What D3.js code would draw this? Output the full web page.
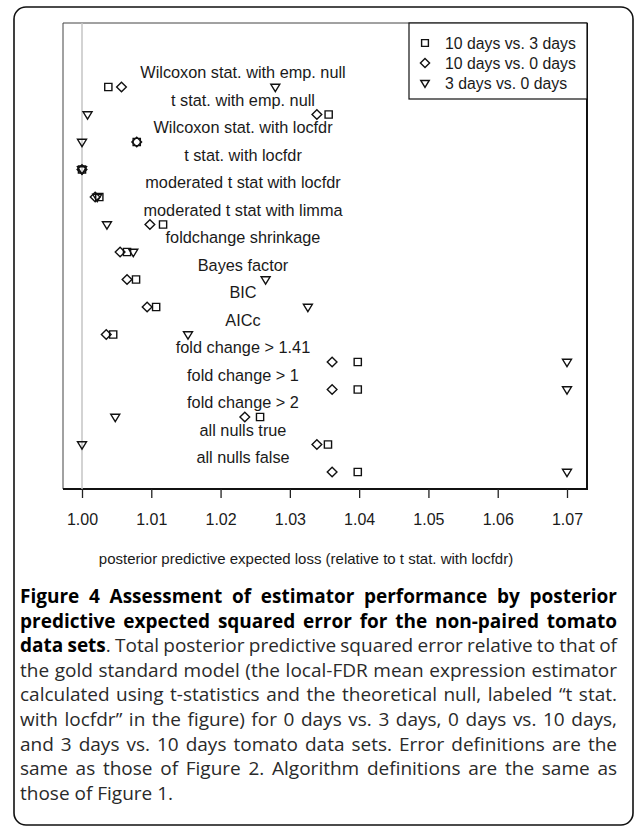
<!DOCTYPE html>
<html lang="en">
<head>
<meta charset="UTF-8">
<title>Figure 4 - posterior predictive expected loss</title>
<script src="https://d3js.org/d3.v7.min.js"></script>
<style>
  html, body { margin: 0; padding: 0; background: #fff; }
  svg { display: block; }
  .plot-text { font-family: "Liberation Sans", Arial, sans-serif; fill: #1a1a1a; }
  .caption { font-family: "Open Sans", "Noto Sans", sans-serif; font-size: 19px; fill: #2a2a2a; }
  .caption .b { font-weight: bold; fill: #000; }
</style>
</head>
<body>
<svg id="chart" width="635" height="827"></svg>
<script>
// methods, top to bottom
const methods = [
  "Wilcoxon stat. with emp. null",
  "t stat. with emp. null",
  "Wilcoxon stat. with locfdr",
  "t stat. with locfdr",
  "moderated t stat with locfdr",
  "moderated t stat with limma",
  "foldchange shrinkage",
  "Bayes factor",
  "BIC",
  "AICc",
  "fold change > 1.41",
  "fold change > 1",
  "fold change > 2",
  "all nulls true",
  "all nulls false"
];
// relative loss for each comparison
const days10vs3 = [1.0038, 1.0356, 1.0079, 1.0000, 1.0025, 1.0117, 1.0065, 1.0078, 1.0107, 1.0045, 1.0398, 1.0398, 1.0257, 1.0355, 1.0398];
const days10vs0 = [1.0057, 1.0339, 1.0079, 1.0000, 1.0019, 1.0098, 1.0055, 1.0065, 1.0094, 1.0035, 1.0361, 1.0361, 1.0235, 1.0339, 1.0361];
const days3vs0  = [1.0279, 1.0008, 1.0000, 1.0000, 1.0022, 1.0036, 1.0074, 1.0265, 1.0326, 1.0153, 1.0700, 1.0700, 1.0048, 1.0000, 1.0700];
const seriesNames = ["10 days vs. 3 days", "10 days vs. 0 days", "3 days vs. 0 days"];
const xTicks = [1.00, 1.01, 1.02, 1.03, 1.04, 1.05, 1.06, 1.07];

const captionLines = [
  [["b", "Figure 4 Assessment of estimator performance by posterior"]],
  [["b", "predictive expected squared error for the non-paired tomato"]],
  [["b", "data sets"], ["r", ". Total posterior predictive squared error relative to that of"]],
  [["r", "the gold standard model (the local-FDR mean expression estimator"]],
  [["r", "calculated using t-statistics and the theoretical null, labeled \u201ct stat."]],
  [["r", "with locfdr\u201d in the figure) for 0 days vs. 3 days, 0 days vs. 10 days,"]],
  [["r", "and 3 days vs. 10 days tomato data sets. Error definitions are the"]],
  [["r", "same as those of Figure 2. Algorithm definitions are the same as"]],
  [["r", "those of Figure 1."]]
];

const svg = d3.select("#chart");

// outer rounded frame
svg.append("rect")
  .attr("x", 14).attr("y", 7).attr("width", 619).attr("height", 818)
  .attr("rx", 12).attr("fill", "none").attr("stroke", "#111").attr("stroke-width", 1.6);

const box = {left: 63, top: 23, right: 587, bottom: 489};
const x = d3.scaleLinear().domain([1.00, 1.07]).range([82, 567]);
const y = d3.scaleLinear().domain([0, methods.length - 1]).range([87, 472]);

// plot box
svg.append("path")
  .attr("d", `M${box.left},${box.bottom}V${box.top}H${box.right}`)
  .attr("fill", "none").attr("stroke", "#444").attr("stroke-width", 1);
svg.append("path")
  .attr("d", `M${box.right},${box.top}V${box.bottom}H${box.left}`)
  .attr("fill", "none").attr("stroke", "#111").attr("stroke-width", 2);

// reference line at 1
svg.append("line")
  .attr("x1", x(1)).attr("x2", x(1)).attr("y1", box.top).attr("y2", box.bottom)
  .attr("stroke", "#c4c4c4").attr("stroke-width", 1.5);

// x axis
const axis = svg.append("g")
  .attr("transform", `translate(0,${box.bottom})`)
  .call(d3.axisBottom(x).tickValues(xTicks).tickFormat(d3.format(".2f")).tickSize(9).tickPadding(16));
axis.select(".domain").remove();
axis.selectAll(".tick line").attr("stroke", "#222").attr("stroke-width", 1.3);
axis.selectAll(".tick text")
  .attr("class", "plot-text")
  .style("font-size", "16px").attr("fill", "#1a1a1a");

svg.append("text")
  .attr("class", "plot-text")
  .attr("x", 306).attr("y", 564)
  .attr("text-anchor", "middle")
  .style("font-size", "15px")
  .text("posterior predictive expected loss (relative to t stat. with locfdr)");

// method labels between rows
svg.append("g").selectAll("text")
  .data(methods)
  .join("text")
    .attr("class", "plot-text")
    .attr("x", 243)
    .attr("y", (d, i) => y(i - 0.54))
    .attr("dy", "0.36em")
    .attr("text-anchor", "middle")
    .style("font-size", "16.3px")
    .text(d => d);

// marker shapes (R pch 0, 5, 6)
const shapes = [
  s => `M${-s},${-s}H${s}V${s}H${-s}Z`,
  s => { const r = s * 1.35; return `M0,${-r}L${r},0L0,${r}L${-r},0Z`; },
  s => { const r = s * 1.25; return `M${-r},${-r * 0.6}H${r}L0,${r * 1.05}Z`; }
];
const series = [days10vs3, days10vs0, days3vs0];
const markerStyle = sel => sel.attr("fill", "none").attr("stroke", "#111").attr("stroke-width", 1.4);

series.forEach((vals, k) => {
  svg.append("g").selectAll("path")
    .data(vals)
    .join("path")
      .attr("transform", (d, i) => `translate(${x(d)},${y(i)})`)
      .attr("d", shapes[k](3.6))
      .call(markerStyle);
});

// legend
const lg = svg.append("g");
lg.append("rect")
  .attr("x", 409).attr("y", box.top).attr("width", box.right - 409).attr("height", 76)
  .attr("fill", "#fff").attr("stroke", "#111").attr("stroke-width", 1.2);
seriesNames.forEach((name, k) => {
  const ly = 43 + k * 20;
  lg.append("path").attr("transform", `translate(425,${ly})`).attr("d", shapes[k](3.4)).call(markerStyle);
  lg.append("text").attr("class", "plot-text")
    .attr("x", 445).attr("y", ly).attr("dy", "0.36em")
    .style("font-size", "15.8px").text(name);
});

// caption, justified line by line
const capLeft = 20, capRight = 617, capTop = 603, capStep = 24.6;
captionLines.forEach((parts, i) => {
  const t = svg.append("text")
    .attr("class", "caption")
    .attr("x", capLeft).attr("y", capTop + i * capStep);
  parts.forEach(([kind, str]) => {
    t.append("tspan").attr("class", kind === "b" ? "b" : null).text(str);
  });
  if (i < captionLines.length - 1) {
    const natural = t.node().getComputedTextLength();
    const gaps = parts.map(p => p[1]).join("").split(" ").length - 1;
    if (gaps > 0) t.style("word-spacing", ((capRight - capLeft - natural) / gaps) + "px");
  }
});
</script>
</body>
</html>
